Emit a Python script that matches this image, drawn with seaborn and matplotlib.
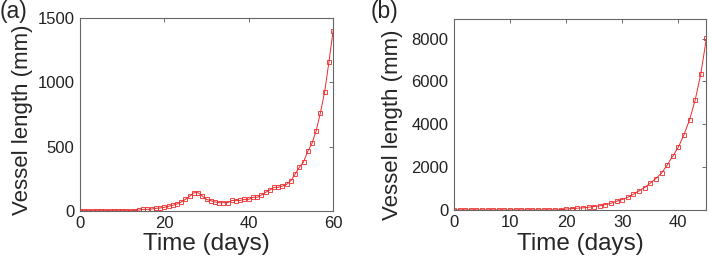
import numpy as np
import matplotlib
matplotlib.use('Agg')
import matplotlib.pyplot as plt
import seaborn as sns

# panel (a): vessel length, days 0..60
days_a = list(range(61))
length_a = [0, 0, 0, 0, 0, 0, 0, 0, 0, 0, 0, 0, 0, 0, 5, 10, 10, 13, 18, 21,
            26, 34, 42, 52, 68, 88, 112, 140, 140, 114, 88, 78, 68, 62, 62, 62,
            80, 78, 80, 88, 88, 104, 104, 122, 143, 161, 182, 182, 192, 205,
            234, 286, 338, 380, 463, 525, 624, 764, 925, 1156, 1400]

# panel (b): vessel length, days 0..45
days_b = list(range(46))
length_b = [0, 0, 0, 0, 0, 0, 0, 0, 0, 0, 0, 0, 0, 0, 0, 0, 0, 0, 0, 10,
            40, 60, 80, 95, 125, 156, 190, 250, 310, 405, 485, 590, 730, 890,
            1045, 1250, 1465, 1715, 2090, 2510, 2930, 3510, 4210, 5130, 6345,
            8010]

sns.set_style('white')
plt.rcParams['font.family'] = ['Liberation Sans', 'DejaVu Sans']

red = '#ee2a2a'
fig = plt.figure(figsize=(7.09, 2.64), dpi=100)
ax_a = fig.add_axes([0.1128, 0.202, 0.357, 0.729])
ax_b = fig.add_axes([0.6403, 0.205, 0.356, 0.723])


def style(ax, xlim, ylim, xticks, yticks, tag, tag_x, ylab_xy):
    ax.set_xlim(*xlim)
    ax.set_ylim(*ylim)
    ax.set_xticks(xticks)
    ax.set_yticks(yticks)
    ax.tick_params(direction='in', top=True, right=True, length=3,
                   width=0.6, color='#555555', labelsize=12, pad=4,
                   labelcolor='#222222')
    for s in ax.spines.values():
        s.set_color('#666666')
        s.set_linewidth(0.8)
    ax.set_xlabel('Time (days)', fontsize=17.5, labelpad=1.5)
    ax.set_ylabel('Vessel length (mm)', fontsize=16)
    ax.yaxis.set_label_coords(*ylab_xy)
    fig.text(tag_x, 1.0, tag, fontsize=16.5, va='top', ha='left')


sns.lineplot(x=days_a, y=length_a, ax=ax_a, color=red, lw=0.7,
             marker='s', markersize=2.6, markerfacecolor='none',
             markeredgecolor=red, markeredgewidth=0.6)
style(ax_a, (0, 60), (0, 1500), [0, 20, 40, 60], [0, 500, 1000, 1500],
      '(a)', 0.0, (-0.186, 0.471))

sns.lineplot(x=days_b, y=length_b, ax=ax_b, color=red, lw=0.7,
             marker='s', markersize=2.6, markerfacecolor='none',
             markeredgecolor=red, markeredgewidth=0.6)
style(ax_b, (0, 45), (0, 8920), [0, 10, 20, 30, 40],
      [0, 2000, 4000, 6000, 8000], '(b)', 0.523, (-0.202, 0.448))

fig.savefig('out.png', dpi=100)
